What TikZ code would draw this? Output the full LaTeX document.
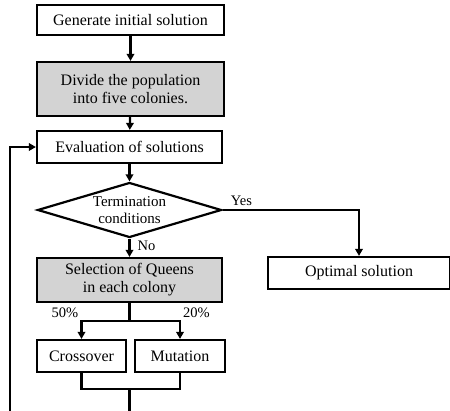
\documentclass[tikz,border=0pt]{standalone}
\usepackage{fontspec}
\setmainfont{Liberation Serif}
\usetikzlibrary{shapes.geometric,arrows.meta}
\definecolor{boxgray}{RGB}{211,211,211}
\tikzset{
  x=1pt, y=-1pt,
  every node/.style={font=\fontsize{16}{18}\selectfont},
  stepbox/.style={draw, line width=2.2pt, inner sep=0pt, align=center},
  graybox/.style={stepbox, fill=boxgray},
  smalltext/.style={font=\fontsize{14.5}{16}\selectfont, inner sep=1pt},
  conn/.style={line width=2.2pt},
  arr/.style={conn, -{Triangle[length=7pt,width=7.5pt]}},
}
\begin{document}
\begin{tikzpicture}
\useasboundingbox (0,0) rectangle (450,410);
\node[stepbox, minimum width=187pt, minimum height=30pt] (gen) at (130.5,20) {Generate initial solution};
\node[graybox, minimum width=187pt, minimum height=54pt] (div) at (130.5,89) {Divide the population\\into five colonies.};
\node[stepbox, minimum width=185pt, minimum height=32pt] (eval) at (129.5,147) {Evaluation of solutions};
\node[draw, diamond, aspect=3.35, line width=2.2pt, inner sep=0pt, minimum width=184pt, minimum height=55pt, align=center,
      font=\fontsize{15}{17}\selectfont] (dia) at (129.5,210) {Termination\\conditions};
\node[graybox, minimum width=185pt, minimum height=44pt] (sel) at (129.5,280) {Selection of Queens\\in each colony};
\node[stepbox, minimum width=182pt, minimum height=32pt] (opt) at (359,273) {Optimal solution};
\node[stepbox, minimum width=89pt, minimum height=32pt] (cross) at (81.5,356) {Crossover};
\node[stepbox, minimum width=90pt, minimum height=32pt] (mut) at (180,356) {Mutation};

\coordinate (fork) at (129.5,321);
\coordinate (merge) at (129.5,389);
\coordinate (bot1) at (129.5,411);
\coordinate (bot2) at (10,411);

\draw[arr] (gen) -- (div);
\draw[arr] (div) -- (eval);
\draw[arr] (eval) -- (dia);
\draw[arr] (dia) -- (sel);
\node[smalltext, anchor=north west] (nolab) at ([xshift=7pt,yshift=-1pt]dia.south) {No};
\draw[arr] (dia.east) -| (opt.north);
\node[smalltext, anchor=south west] (yeslab) at ([xshift=7pt,yshift=3pt]dia.east) {Yes};
\draw[conn] (sel) -- (fork);
\draw[arr] (fork) -| (cross.north);
\draw[arr] (fork) -| (mut.north);
\node[smalltext, anchor=south east] (p50) at ([xshift=-2pt,yshift=2pt]cross.north |- fork) {50\%};
\node[smalltext, anchor=south west] (p20) at ([xshift=2pt,yshift=2pt]mut.north |- fork) {20\%};
\draw[conn] (cross.south) |- (merge) -| (mut.south);
\draw[conn] (merge) -- (bot1);
\draw[arr] (bot2) |- (eval.west);
\end{tikzpicture}
\end{document}
